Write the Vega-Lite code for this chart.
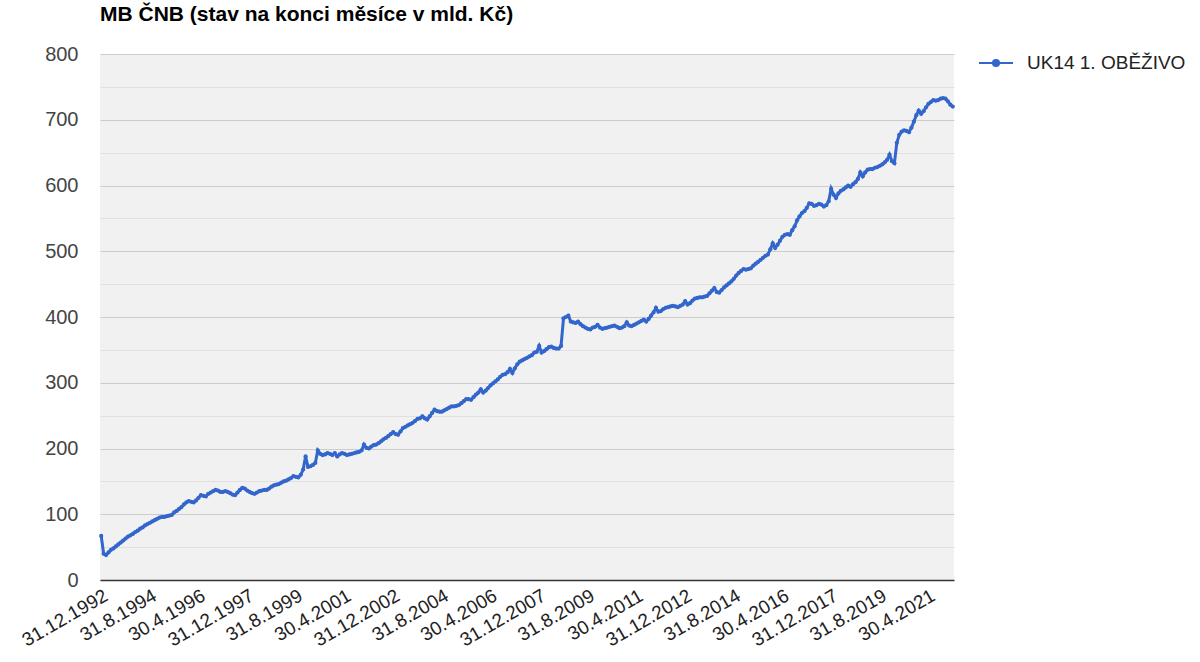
{
"$schema":"https://vega.github.io/schema/vega-lite/v6.json",
"width":854,"height":526,
"autosize":{"type":"none"},
"padding":{"left":100,"top":54,"right":246,"bottom":82},
"background":"white",
"title":{"text":"MB ČNB (stav na konci měsíce v mld. Kč)","anchor":"start","frame":"group","font":"Liberation Sans","fontSize":21,"fontWeight":"bold","color":"#000000","offset":19},
"config":{"view":{"fill":"#f1f1f1","stroke":null},"font":"Liberation Sans"},
"data":{"values":[
{"d":"31.12.1992","v":67},
{"d":"31.1.1993","v":40},{"d":"28.2.1993","v":38},{"d":"31.3.1993","v":42},{"d":"30.4.1993","v":46},{"d":"31.5.1993","v":48},{"d":"30.6.1993","v":51},{"d":"31.7.1993","v":54},{"d":"31.8.1993","v":57},{"d":"30.9.1993","v":60},{"d":"31.10.1993","v":63},{"d":"30.11.1993","v":66},{"d":"31.12.1993","v":68},
{"d":"31.1.1994","v":70},{"d":"28.2.1994","v":73},{"d":"31.3.1994","v":75},{"d":"30.4.1994","v":78},{"d":"31.5.1994","v":80},{"d":"30.6.1994","v":83},{"d":"31.7.1994","v":85},{"d":"31.8.1994","v":87},{"d":"30.9.1994","v":89},{"d":"31.10.1994","v":91},{"d":"30.11.1994","v":93},{"d":"31.12.1994","v":95},
{"d":"31.1.1995","v":96},{"d":"28.2.1995","v":96},{"d":"31.3.1995","v":97},{"d":"30.4.1995","v":98},{"d":"31.5.1995","v":99},{"d":"30.6.1995","v":103},{"d":"31.7.1995","v":105},{"d":"31.8.1995","v":108},{"d":"30.9.1995","v":111},{"d":"31.10.1995","v":115},{"d":"30.11.1995","v":118},{"d":"31.12.1995","v":120},
{"d":"31.1.1996","v":119},{"d":"29.2.1996","v":118},{"d":"31.3.1996","v":121},{"d":"30.4.1996","v":125},{"d":"31.5.1996","v":129},{"d":"30.6.1996","v":128},{"d":"31.7.1996","v":127},{"d":"31.8.1996","v":131},{"d":"30.9.1996","v":133},{"d":"31.10.1996","v":135},{"d":"30.11.1996","v":137},{"d":"31.12.1996","v":136},
{"d":"31.1.1997","v":134},{"d":"28.2.1997","v":134},{"d":"31.3.1997","v":135},{"d":"30.4.1997","v":134},{"d":"31.5.1997","v":132},{"d":"30.6.1997","v":130},{"d":"31.7.1997","v":129},{"d":"31.8.1997","v":133},{"d":"30.9.1997","v":137},{"d":"31.10.1997","v":140},{"d":"30.11.1997","v":139},{"d":"31.12.1997","v":136},
{"d":"31.1.1998","v":134},{"d":"28.2.1998","v":132},{"d":"31.3.1998","v":131},{"d":"30.4.1998","v":133},{"d":"31.5.1998","v":135},{"d":"30.6.1998","v":136},{"d":"31.7.1998","v":137},{"d":"31.8.1998","v":137},{"d":"30.9.1998","v":139},{"d":"31.10.1998","v":142},{"d":"30.11.1998","v":144},{"d":"31.12.1998","v":145},
{"d":"31.1.1999","v":146},{"d":"28.2.1999","v":148},{"d":"31.3.1999","v":150},{"d":"30.4.1999","v":151},{"d":"31.5.1999","v":153},{"d":"30.6.1999","v":155},{"d":"31.7.1999","v":158},{"d":"31.8.1999","v":157},{"d":"30.9.1999","v":156},{"d":"31.10.1999","v":160},{"d":"30.11.1999","v":168},{"d":"31.12.1999","v":188},
{"d":"31.1.2000","v":172},{"d":"29.2.2000","v":173},{"d":"31.3.2000","v":175},{"d":"30.4.2000","v":178},{"d":"31.5.2000","v":197},{"d":"30.6.2000","v":192},{"d":"31.7.2000","v":190},{"d":"31.8.2000","v":191},{"d":"30.9.2000","v":193},{"d":"31.10.2000","v":192},{"d":"30.11.2000","v":190},{"d":"31.12.2000","v":193},
{"d":"31.1.2001","v":188},{"d":"28.2.2001","v":191},{"d":"31.3.2001","v":193},{"d":"30.4.2001","v":192},{"d":"31.5.2001","v":190},{"d":"30.6.2001","v":191},{"d":"31.7.2001","v":192},{"d":"31.8.2001","v":193},{"d":"30.9.2001","v":194},{"d":"31.10.2001","v":195},{"d":"30.11.2001","v":197},{"d":"31.12.2001","v":206},
{"d":"31.1.2002","v":201},{"d":"28.2.2002","v":200},{"d":"31.3.2002","v":203},{"d":"30.4.2002","v":205},{"d":"31.5.2002","v":206},{"d":"30.6.2002","v":208},{"d":"31.7.2002","v":211},{"d":"31.8.2002","v":214},{"d":"30.9.2002","v":216},{"d":"31.10.2002","v":219},{"d":"30.11.2002","v":222},{"d":"31.12.2002","v":225},
{"d":"31.1.2003","v":222},{"d":"28.2.2003","v":221},{"d":"31.3.2003","v":226},{"d":"30.4.2003","v":231},{"d":"31.5.2003","v":233},{"d":"30.6.2003","v":235},{"d":"31.7.2003","v":237},{"d":"31.8.2003","v":239},{"d":"30.9.2003","v":242},{"d":"31.10.2003","v":245},{"d":"30.11.2003","v":246},{"d":"31.12.2003","v":249},
{"d":"31.1.2004","v":246},{"d":"29.2.2004","v":244},{"d":"31.3.2004","v":249},{"d":"30.4.2004","v":254},{"d":"31.5.2004","v":259},{"d":"30.6.2004","v":257},{"d":"31.7.2004","v":256},{"d":"31.8.2004","v":256},{"d":"30.9.2004","v":258},{"d":"31.10.2004","v":260},{"d":"30.11.2004","v":262},{"d":"31.12.2004","v":264},
{"d":"31.1.2005","v":264},{"d":"28.2.2005","v":265},{"d":"31.3.2005","v":266},{"d":"30.4.2005","v":269},{"d":"31.5.2005","v":272},{"d":"30.6.2005","v":275},{"d":"31.7.2005","v":275},{"d":"31.8.2005","v":274},{"d":"30.9.2005","v":278},{"d":"31.10.2005","v":282},{"d":"30.11.2005","v":285},{"d":"31.12.2005","v":290},
{"d":"31.1.2006","v":285},{"d":"28.2.2006","v":288},{"d":"31.3.2006","v":292},{"d":"30.4.2006","v":296},{"d":"31.5.2006","v":299},{"d":"30.6.2006","v":302},{"d":"31.7.2006","v":305},{"d":"31.8.2006","v":309},{"d":"30.9.2006","v":312},{"d":"31.10.2006","v":313},{"d":"30.11.2006","v":316},{"d":"31.12.2006","v":321},
{"d":"31.1.2007","v":315},{"d":"28.2.2007","v":322},{"d":"31.3.2007","v":328},{"d":"30.4.2007","v":332},{"d":"31.5.2007","v":334},{"d":"30.6.2007","v":336},{"d":"31.7.2007","v":338},{"d":"31.8.2007","v":340},{"d":"30.9.2007","v":342},{"d":"31.10.2007","v":346},{"d":"30.11.2007","v":347},{"d":"31.12.2007","v":356},
{"d":"31.1.2008","v":346},{"d":"29.2.2008","v":348},{"d":"31.3.2008","v":351},{"d":"30.4.2008","v":354},{"d":"31.5.2008","v":355},{"d":"30.6.2008","v":353},{"d":"31.7.2008","v":352},{"d":"31.8.2008","v":352},{"d":"30.9.2008","v":356},{"d":"31.10.2008","v":398},{"d":"30.11.2008","v":400},{"d":"31.12.2008","v":402},
{"d":"31.1.2009","v":393},{"d":"28.2.2009","v":392},{"d":"31.3.2009","v":391},{"d":"30.4.2009","v":393},{"d":"31.5.2009","v":389},{"d":"30.6.2009","v":386},{"d":"31.7.2009","v":384},{"d":"31.8.2009","v":382},{"d":"30.9.2009","v":381},{"d":"31.10.2009","v":384},{"d":"30.11.2009","v":385},{"d":"31.12.2009","v":388},
{"d":"31.1.2010","v":384},{"d":"28.2.2010","v":382},{"d":"31.3.2010","v":383},{"d":"30.4.2010","v":384},{"d":"31.5.2010","v":385},{"d":"30.6.2010","v":386},{"d":"31.7.2010","v":387},{"d":"31.8.2010","v":385},{"d":"30.9.2010","v":383},{"d":"31.10.2010","v":384},{"d":"30.11.2010","v":386},{"d":"31.12.2010","v":392},
{"d":"31.1.2011","v":387},{"d":"28.2.2011","v":386},{"d":"31.3.2011","v":388},{"d":"30.4.2011","v":390},{"d":"31.5.2011","v":392},{"d":"30.6.2011","v":394},{"d":"31.7.2011","v":396},{"d":"31.8.2011","v":393},{"d":"30.9.2011","v":397},{"d":"31.10.2011","v":402},{"d":"30.11.2011","v":407},{"d":"31.12.2011","v":414},
{"d":"31.1.2012","v":408},{"d":"29.2.2012","v":409},{"d":"31.3.2012","v":412},{"d":"30.4.2012","v":414},{"d":"31.5.2012","v":415},{"d":"30.6.2012","v":416},{"d":"31.7.2012","v":417},{"d":"31.8.2012","v":416},{"d":"30.9.2012","v":415},{"d":"31.10.2012","v":417},{"d":"30.11.2012","v":419},{"d":"31.12.2012","v":424},
{"d":"31.1.2013","v":419},{"d":"28.2.2013","v":421},{"d":"31.3.2013","v":425},{"d":"30.4.2013","v":428},{"d":"31.5.2013","v":429},{"d":"30.6.2013","v":430},{"d":"31.7.2013","v":430},{"d":"31.8.2013","v":431},{"d":"30.9.2013","v":432},{"d":"31.10.2013","v":436},{"d":"30.11.2013","v":440},{"d":"31.12.2013","v":444},
{"d":"31.1.2014","v":438},{"d":"28.2.2014","v":437},{"d":"31.3.2014","v":441},{"d":"30.4.2014","v":445},{"d":"31.5.2014","v":448},{"d":"30.6.2014","v":451},{"d":"31.7.2014","v":454},{"d":"31.8.2014","v":458},{"d":"30.9.2014","v":463},{"d":"31.10.2014","v":467},{"d":"30.11.2014","v":470},{"d":"31.12.2014","v":473},
{"d":"31.1.2015","v":472},{"d":"28.2.2015","v":473},{"d":"31.3.2015","v":474},{"d":"30.4.2015","v":478},{"d":"31.5.2015","v":481},{"d":"30.6.2015","v":484},{"d":"31.7.2015","v":487},{"d":"31.8.2015","v":490},{"d":"30.9.2015","v":493},{"d":"31.10.2015","v":495},{"d":"30.11.2015","v":503},{"d":"31.12.2015","v":512},
{"d":"31.1.2016","v":505},{"d":"29.2.2016","v":510},{"d":"31.3.2016","v":516},{"d":"30.4.2016","v":522},{"d":"31.5.2016","v":525},{"d":"30.6.2016","v":526},{"d":"31.7.2016","v":525},{"d":"31.8.2016","v":532},{"d":"30.9.2016","v":538},{"d":"31.10.2016","v":547},{"d":"30.11.2016","v":553},{"d":"31.12.2016","v":558},
{"d":"31.1.2017","v":561},{"d":"28.2.2017","v":566},{"d":"31.3.2017","v":573},{"d":"30.4.2017","v":572},{"d":"31.5.2017","v":569},{"d":"30.6.2017","v":570},{"d":"31.7.2017","v":572},{"d":"31.8.2017","v":571},{"d":"30.9.2017","v":568},{"d":"31.10.2017","v":570},{"d":"30.11.2017","v":576},{"d":"31.12.2017","v":595},
{"d":"31.1.2018","v":586},{"d":"28.2.2018","v":581},{"d":"31.3.2018","v":588},{"d":"30.4.2018","v":592},{"d":"31.5.2018","v":594},{"d":"30.6.2018","v":597},{"d":"31.7.2018","v":600},{"d":"31.8.2018","v":598},{"d":"30.9.2018","v":602},{"d":"31.10.2018","v":605},{"d":"30.11.2018","v":610},{"d":"31.12.2018","v":620},
{"d":"31.1.2019","v":614},{"d":"28.2.2019","v":620},{"d":"31.3.2019","v":624},{"d":"30.4.2019","v":625},{"d":"31.5.2019","v":625},{"d":"30.6.2019","v":627},{"d":"31.7.2019","v":628},{"d":"31.8.2019","v":630},{"d":"30.9.2019","v":632},{"d":"31.10.2019","v":635},{"d":"30.11.2019","v":639},{"d":"31.12.2019","v":647},
{"d":"31.1.2020","v":637},{"d":"29.2.2020","v":634},{"d":"31.3.2020","v":665},{"d":"30.4.2020","v":677},{"d":"31.5.2020","v":682},{"d":"30.6.2020","v":684},{"d":"31.7.2020","v":683},{"d":"31.8.2020","v":681},{"d":"30.9.2020","v":688},{"d":"31.10.2020","v":697},{"d":"30.11.2020","v":707},{"d":"31.12.2020","v":714},
{"d":"31.1.2021","v":709},{"d":"28.2.2021","v":713},{"d":"31.3.2021","v":719},{"d":"30.4.2021","v":724},{"d":"31.5.2021","v":727},{"d":"30.6.2021","v":730},{"d":"31.7.2021","v":729},{"d":"31.8.2021","v":730},{"d":"30.9.2021","v":732},{"d":"31.10.2021","v":733},{"d":"30.11.2021","v":732},{"d":"31.12.2021","v":728},
{"d":"31.1.2022","v":723},{"d":"28.2.2022","v":720}
]},
"mark":{"type":"line","strokeWidth":3,"point":{"filled":true,"size":18}},
"encoding":{
"x":{"field":"d","type":"ordinal","sort":null,"scale":{"type":"point","padding":0.5},
"axis":{"title":null,"values":["31.12.1992","31.8.1994","30.4.1996","31.12.1997","31.8.1999","30.4.2001","31.12.2002","31.8.2004","30.4.2006","31.12.2007","31.8.2009","30.4.2011","31.12.2012","31.8.2014","30.4.2016","31.12.2017","31.8.2019","30.4.2021"],
"labelAngle":-30,"labelAlign":"right","labelBaseline":"top","labelFontSize":19,"labelColor":"#222222","labelFont":"Liberation Sans","ticks":false,"domainColor":"#333333","domainWidth":1.5,"grid":false,"labelPadding":6,"labelOverlap":false}},
"y":{"field":"v","type":"quantitative","scale":{"domain":[0,800],"nice":false},
"axis":{"title":null,"values":[0,50,100,150,200,250,300,350,400,450,500,550,600,650,700,750,800],
"labelExpr":"datum.value % 100 === 0 ? datum.label : ''",
"gridColor":{"condition":{"test":"datum.value % 100 === 0","value":"#cccccc"},"value":"#e0e0e0"},
"domain":false,"ticks":false,"labelFontSize":20,"labelColor":"#444444","labelFont":"Liberation Sans","labelPadding":22}},
"color":{"datum":"UK14 1. OBĚŽIVO","type":"nominal","scale":{"range":["#3366cc"]},
"legend":{"title":null,"orient":"none","legendX":878,"legendY":-9,"labelFontSize":19,"labelLimit":400,"labelColor":"#222222","labelFont":"Liberation Sans","labelOffset":13,
"symbolType":"M-1,0L1,0M0.18,0A0.18,0.18,0,1,1,-0.18,0A0.18,0.18,0,1,1,0.18,0","symbolSize":1156,"symbolStrokeWidth":2,"symbolFillColor":"#3366cc","symbolStrokeColor":"#3366cc"}}
}
}
